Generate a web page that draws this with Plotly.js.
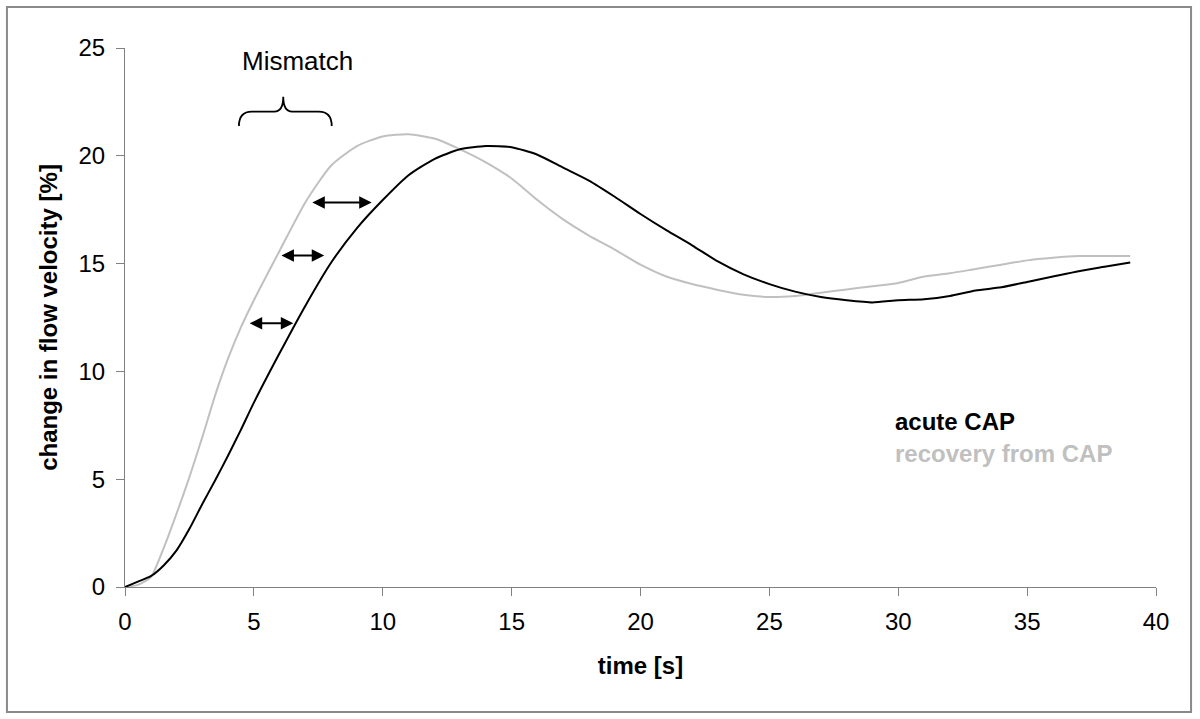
<!DOCTYPE html>
<html>
<head>
<meta charset="utf-8">
<script src="https://cdn.plot.ly/plotly-3.0.1.min.js"></script>
<style>html,body{margin:0;padding:0;background:#fff;}#chart{width:1200px;height:719px;}</style>
</head>
<body>
<div id="chart"></div>
<script>
// time axis [s]
const timeS = [0,0.5,1,1.5,2,2.5,3,3.5,4,4.5,5,6,7,8,9,10,11,12,13,14,15,16,17,18,19,20,21,22,23,24,25,26,27,28,29,30,31,32,33,34,35,36,37,38,39];
// change in flow velocity [%], acute CAP
const acuteCAP = [0,0.25,0.5,1.0,1.7,2.7,3.85,4.95,6.1,7.3,8.55,10.85,13.05,15.05,16.65,17.95,19.1,19.85,20.3,20.45,20.4,20.05,19.45,18.85,18.1,17.3,16.55,15.85,15.1,14.5,14.05,13.7,13.45,13.3,13.2,13.3,13.35,13.5,13.75,13.9,14.15,14.4,14.65,14.85,15.05];
// change in flow velocity [%], recovery from CAP
const recoveryCAP = [0,0.1,0.45,1.8,3.4,5.1,6.95,8.9,10.6,12.05,13.3,15.6,17.85,19.55,20.45,20.9,21.0,20.8,20.3,19.7,18.95,17.95,17.05,16.3,15.65,14.95,14.4,14.05,13.78,13.55,13.45,13.5,13.65,13.8,13.95,14.1,14.4,14.55,14.75,14.95,15.15,15.27,15.35,15.35,15.35];

// mismatch arrows (data coordinates)
const arrowY = [12.23, 15.37, 17.83];
const arrowFrom = [4.78, 6.01, 7.21];
const arrowTo = [6.53, 7.73, 9.57];

// brace over the mismatch region
const braceX = [4.42, 6.14, 8.02];
const braceY = [21.38, 22.05, 22.74];
const mismatchLabel = {text: 'Mismatch', x: 6.71, y: 24.4};

const seriesNames = ['acute CAP', 'recovery from CAP'];
const seriesColors = ['#000000', '#c0c0c0'];

const FONT = 'Liberation Sans, Arial, sans-serif';

const traces = [
  {x: timeS, y: recoveryCAP, name: seriesNames[1], type: 'scatter', mode: 'lines',
   line: {color: seriesColors[1], width: 2, shape: 'spline', smoothing: 0.6}},
  {x: timeS, y: acuteCAP, name: seriesNames[0], type: 'scatter', mode: 'lines',
   line: {color: seriesColors[0], width: 2, shape: 'spline', smoothing: 0.6}}
];

const annotations = [];
for (let i = 0; i < arrowY.length; i++) {
  annotations.push({
    xref: 'x', yref: 'y', axref: 'x', ayref: 'y',
    x: arrowTo[i], y: arrowY[i], ax: arrowFrom[i], ay: arrowY[i],
    text: '', showarrow: true, arrowside: 'end+start',
    arrowhead: 2, startarrowhead: 2, arrowsize: 1.25, startarrowsize: 1.25,
    arrowwidth: 2, arrowcolor: '#000'
  });
}
annotations.push({
  xref: 'x', yref: 'y', x: mismatchLabel.x, y: mismatchLabel.y,
  text: mismatchLabel.text, showarrow: false,
  font: {family: FONT, size: 26, color: '#000'}
});
annotations.push({
  xref: 'paper', yref: 'paper', x: 0.7446, y: 0.3067, xanchor: 'left', yanchor: 'middle',
  text: seriesNames[0], showarrow: false,
  font: {family: FONT, size: 24, color: seriesColors[0], weight: 'bold'}
});
annotations.push({
  xref: 'paper', yref: 'paper', x: 0.7446, y: 0.2468, xanchor: 'left', yanchor: 'middle',
  text: seriesNames[1], showarrow: false,
  font: {family: FONT, size: 24, color: seriesColors[1], weight: 'bold'}
});

const bracePath = 'M ' + braceX[0] + ',' + braceY[0] +
  ' Q ' + braceX[0] + ',' + braceY[1] + ' ' + (braceX[0] + 0.5) + ',' + braceY[1] +
  ' L ' + (braceX[1] - 0.35) + ',' + braceY[1] +
  ' Q ' + braceX[1] + ',' + braceY[1] + ' ' + braceX[1] + ',' + braceY[2] +
  ' Q ' + braceX[1] + ',' + braceY[1] + ' ' + (braceX[1] + 0.35) + ',' + braceY[1] +
  ' L ' + (braceX[2] - 0.5) + ',' + braceY[1] +
  ' Q ' + braceX[2] + ',' + braceY[1] + ' ' + braceX[2] + ',' + braceY[0];

const shapes = [
  {type: 'path', xref: 'x', yref: 'y', path: bracePath, line: {color: '#000', width: 1.8}},
  {type: 'rect', xref: 'paper', yref: 'paper', x0: -0.1145, x1: 1.034, y0: -0.2319, y1: 1.076,
   line: {color: '#8a8a8a', width: 2}, fillcolor: 'rgba(0,0,0,0)'}
];

const axisCommon = {
  showline: true, linecolor: '#808080', linewidth: 1,
  ticks: 'outside', ticklen: 8, tickcolor: '#808080', tickwidth: 1,
  showgrid: false, zeroline: false, dtick: 5,
  tickfont: {family: FONT, size: 24, color: '#000'}
};

const layout = {
  width: 1200, height: 719,
  margin: {l: 125, r: 44, t: 48, b: 132},
  paper_bgcolor: '#fff', plot_bgcolor: '#fff',
  showlegend: false,
  font: {family: FONT},
  xaxis: Object.assign({}, axisCommon, {
    range: [0, 40], ticklabelstandoff: 5,
    title: {text: 'time [s]', standoff: 23, font: {family: FONT, size: 24, color: '#000', weight: 'bold'}}
  }),
  yaxis: Object.assign({}, axisCommon, {
    range: [0, 25], ticklabelstandoff: 6,
    title: {text: 'change in flow velocity [%]', standoff: 14, font: {family: FONT, size: 24, color: '#000', weight: 'bold'}}
  }),
  annotations: annotations,
  shapes: shapes
};

Plotly.newPlot('chart', traces, layout, {staticPlot: true, displayModeBar: false});
</script>
</body>
</html>
